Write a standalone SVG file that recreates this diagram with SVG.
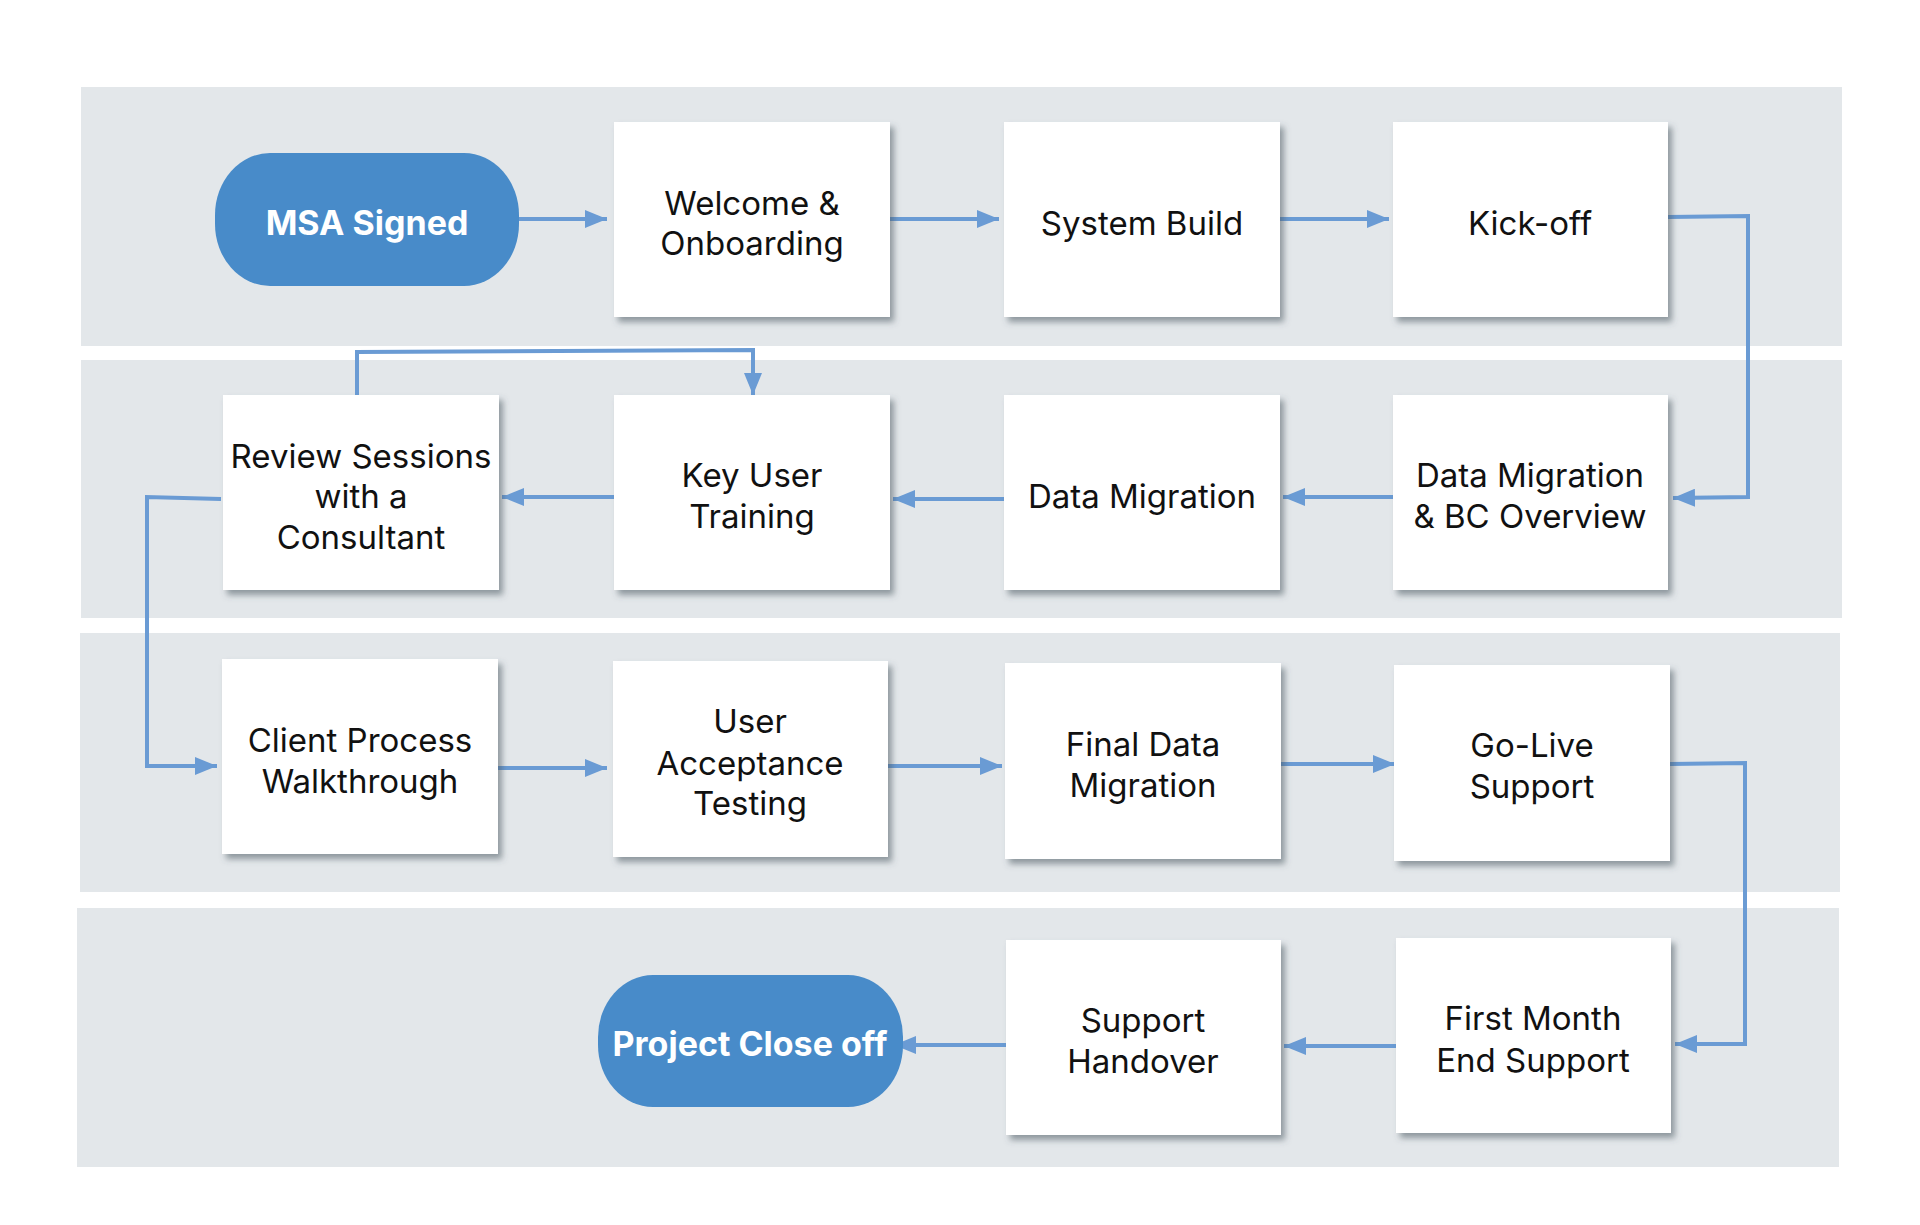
<svg xmlns="http://www.w3.org/2000/svg" width="1920" height="1225" viewBox="0 0 1920 1225">
<style>
.band{fill:#E3E7EA}
.box{fill:#FFFFFF;filter:url(#sh)}
.pill{fill:#488BC9}
.t{font-family:Inter,"Noto Sans","Liberation Sans",sans-serif;font-size:33px;fill:#111111;text-anchor:middle}
.tw{font-family:Inter,"Noto Sans","Liberation Sans",sans-serif;font-size:34px;font-weight:700;fill:#FFFFFF;text-anchor:middle}
.c{fill:none;stroke:#6A9BD4;stroke-width:4;marker-end:url(#ah)}
</style>
<defs>
<filter id="sh" x="-10%" y="-10%" width="130%" height="130%">
<feDropShadow dx="4" dy="5" stdDeviation="3" flood-color="#4a5560" flood-opacity="0.55"/>
</filter>
<marker id="ah" markerUnits="userSpaceOnUse" markerWidth="23" markerHeight="18" refX="22" refY="9" orient="auto">
<path d="M0,0 L22,9 L0,18 z" fill="#6A9BD4"/>
</marker>
</defs>
<rect width="1920" height="1225" fill="#FFFFFF"/>
<g id="bands">
<rect class="band" x="81" y="87" width="1761" height="259"/>
<rect class="band" x="81" y="360" width="1761" height="258"/>
<rect class="band" x="80" y="633" width="1760" height="259"/>
<rect class="band" x="77" y="908" width="1762" height="259"/>
</g>
<g id="connectors">
<path class="c" d="M519,219 L607,219"/>
<path class="c" d="M890,219 L999,219"/>
<path class="c" d="M1280,219 L1389,219"/>
<path class="c" d="M1668,217 L1748,216 L1748,497 L1673,498"/>
<path class="c" d="M1393,497 L1283,497"/>
<path class="c" d="M1004,499 L893,499"/>
<path class="c" d="M614,497 L502,497"/>
<path class="c" d="M357,395 L357,352 L753,350 L753,395"/>
<path class="c" d="M221,499 L147,497 L147,766 L217,766"/>
<path class="c" d="M498,768 L607,768"/>
<path class="c" d="M888,766 L1002,766"/>
<path class="c" d="M1281,764 L1395,764"/>
<path class="c" d="M1670,764 L1745,763 L1745,1044 L1675,1044"/>
<path class="c" d="M1396,1046 L1284,1046"/>
<path class="c" d="M1006,1045 L894,1045"/>
</g>
<g id="msa-signed">
<rect class="pill" x="215" y="153" width="304" height="133" rx="55" ry="62"/>
<text class="tw" x="367" y="235">MSA Signed</text>
</g>
<g id="welcome">
<rect class="box" x="614" y="122" width="276" height="195"/>
<text class="t" x="752" y="215">Welcome &amp;</text>
<text class="t" x="752" y="255">Onboarding</text>
</g>
<g id="system-build">
<rect class="box" x="1004" y="122" width="276" height="195"/>
<text class="t" x="1142" y="235">System Build</text>
</g>
<g id="kick-off">
<rect class="box" x="1393" y="122" width="275" height="195"/>
<text class="t" x="1530" y="235">Kick-off</text>
</g>
<g id="review-sessions">
<rect class="box" x="223" y="395" width="276" height="195"/>
<text class="t" x="361" y="468">Review Sessions</text>
<text class="t" x="361" y="508">with a</text>
<text class="t" x="361" y="549">Consultant</text>
</g>
<g id="key-user-training">
<rect class="box" x="614" y="395" width="276" height="195"/>
<text class="t" x="752" y="487">Key User</text>
<text class="t" x="752" y="528">Training</text>
</g>
<g id="data-migration">
<rect class="box" x="1004" y="395" width="276" height="195"/>
<text class="t" x="1142" y="508">Data Migration</text>
</g>
<g id="data-migration-bc">
<rect class="box" x="1393" y="395" width="275" height="195"/>
<text class="t" x="1530" y="487">Data Migration</text>
<text class="t" x="1530" y="528">&amp; BC Overview</text>
</g>
<g id="client-process">
<rect class="box" x="222" y="659" width="276" height="195"/>
<text class="t" x="360" y="752">Client Process</text>
<text class="t" x="360" y="793">Walkthrough</text>
</g>
<g id="uat">
<rect class="box" x="613" y="661" width="275" height="196"/>
<text class="t" x="750" y="733">User</text>
<text class="t" x="750" y="775">Acceptance</text>
<text class="t" x="750" y="815">Testing</text>
</g>
<g id="final-data-migration">
<rect class="box" x="1005" y="663" width="276" height="196"/>
<text class="t" x="1143" y="756">Final Data</text>
<text class="t" x="1143" y="797">Migration</text>
</g>
<g id="go-live">
<rect class="box" x="1394" y="665" width="276" height="196"/>
<text class="t" x="1532" y="757">Go-Live</text>
<text class="t" x="1532" y="798">Support</text>
</g>
<g id="first-month">
<rect class="box" x="1396" y="938" width="275" height="195"/>
<text class="t" x="1533" y="1030">First Month</text>
<text class="t" x="1533" y="1072">End Support</text>
</g>
<g id="support-handover">
<rect class="box" x="1006" y="940" width="275" height="195"/>
<text class="t" x="1143" y="1032">Support</text>
<text class="t" x="1143" y="1073">Handover</text>
</g>
<g id="project-close-off">
<rect class="pill" x="598" y="975" width="305" height="132" rx="55" ry="62"/>
<text class="tw" x="750" y="1056">Project Close off</text>
</g>
</svg>
